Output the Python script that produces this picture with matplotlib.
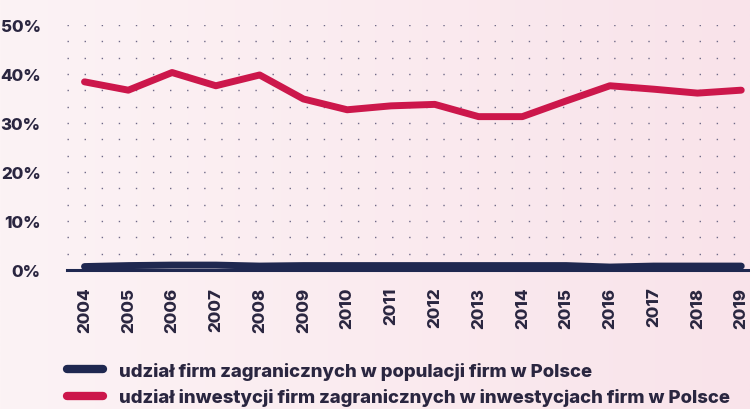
import numpy as np
import matplotlib.pyplot as plt
from matplotlib.colors import LinearSegmentedColormap

years = list(range(2004, 2020))
firm_share = [0.7, 0.9, 1.0, 1.0, 0.8, 0.9, 0.9, 0.9, 0.9, 0.9, 0.9, 0.9, 0.6, 0.8, 0.8, 0.8]
invest_share = [38.4, 36.7, 40.3, 37.6, 39.8, 34.9, 32.7, 33.5, 33.8, 31.3, 31.3, 34.5, 37.6, 36.9, 36.1, 36.7]
labels = [
    "udział firm zagranicznych w populacji firm w Polsce",
    "udział inwestycji firm zagranicznych w inwestycjach firm w Polsce",
]
yticks = [0, 10, 20, 30, 40, 50]

navy = "#1f2850"
red = "#cc174b"
txt = "#2a2640"

plt.rcParams["font.family"] = ["Inter", "DejaVu Sans"]

fig = plt.figure(figsize=(7.5, 4.1), dpi=100)

# soft pink background gradient
bg = fig.add_axes([0, 0, 1, 1], zorder=-10)
grad = np.linspace(0, 1, 256).reshape(1, -1)
cmap = LinearSegmentedColormap.from_list("bg", ["#fcf3f5", "#f9e3ea"])
bg.imshow(grad, aspect="auto", cmap=cmap, extent=[0, 1, 0, 1])
bg.axis("off")

ax = fig.add_axes([67 / 750, 139 / 410, 683 / 750, 245 / 410])
ax.patch.set_alpha(0)

l1, = ax.plot(years, firm_share, color=navy, lw=5, solid_capstyle="round",
              solid_joinstyle="round", zorder=3)
l2, = ax.plot(years, invest_share, color=red, lw=5, solid_capstyle="round",
              solid_joinstyle="round", zorder=3)

ax.set_xlim(2003.6, 2019.2)
ax.set_ylim(0, 50)

ax.set_yticks(yticks)
ax.set_yticklabels([f"{v}%" for v in yticks])
ax.set_xticks(years)
ax.set_xticklabels([str(y) for y in years], rotation=90)

# dotted grid, three rows per 10%
for v in np.arange(10 / 3, 50.01, 10 / 3):
    ax.axhline(v, color="#6f6a88", lw=1, ls=(0, (1, 11.3)), zorder=1)

for s in ["top", "right", "left"]:
    ax.spines[s].set_visible(False)
ax.spines["bottom"].set_color(navy)
ax.spines["bottom"].set_linewidth(2.2)

ax.tick_params(axis="both", length=0, labelsize=12.2, labelcolor=txt)
ax.tick_params(axis="y", pad=19)
ax.tick_params(axis="x", pad=12)
for t in ax.get_xticklabels() + ax.get_yticklabels():
    t.set_fontweight(800)

leg = fig.legend([l1, l2], labels, loc="center left", bbox_to_anchor=(67 / 750, 1 - 385 / 410),
                 frameon=False, borderpad=0, borderaxespad=0,
                 handlelength=1.95, handletextpad=0.85, labelspacing=0.45,
                 prop={"size": 13.35, "weight": 800})
for t in leg.get_texts():
    t.set_color(txt)
for h in leg.legend_handles:
    h.set_linewidth(6)
    h.set_solid_capstyle("round")

fig.savefig("out.png", dpi=100)
